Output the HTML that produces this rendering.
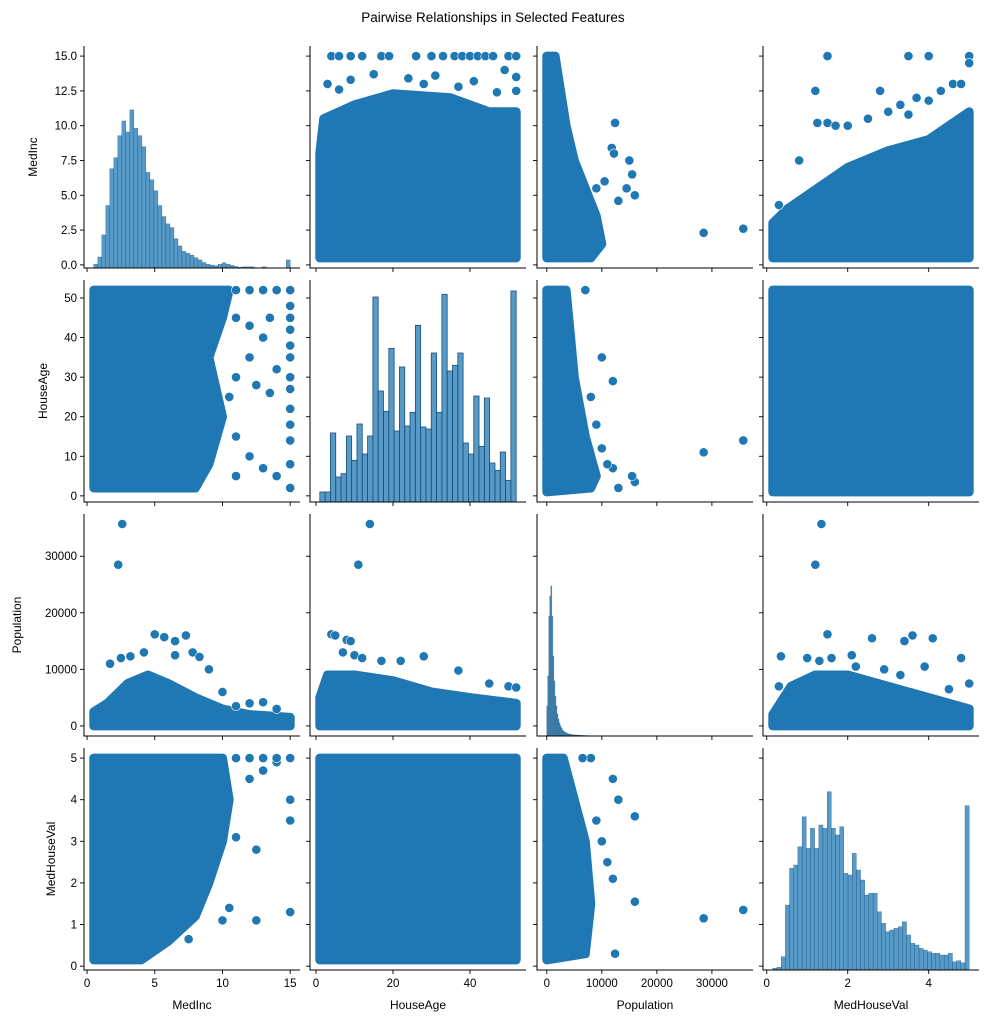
<!DOCTYPE html>
<html><head><meta charset="utf-8">
<style>
html,body{margin:0;padding:0;background:#fff;}
svg{display:block;font-family:"Liberation Sans","DejaVu Sans",sans-serif;}
</style></head>
<body>
<svg id="chart" width="986" height="1023" viewBox="0 0 986 1023" xmlns="http://www.w3.org/2000/svg">
<text x="493" y="22" text-anchor="middle" font-size="13.5" fill="#000">Pairwise Relationships in Selected Features</text>
<g id="cells"></g>
</svg>
<script>
// ---- data ----
const variables = ["MedInc","HouseAge","Population","MedHouseVal"];
const domMedInc = [-0.225, 15.725];
const domHouseAge = [-1.55, 54.55];
const domPopulation = [-1781, 37466];
const domMedHouseVal = [-0.0925, 5.2425];
const ticksMedInc = [0, 2.5, 5, 7.5, 10, 12.5, 15];
const tickLabelsMedInc = ["0.0","2.5","5.0","7.5","10.0","12.5","15.0"];
const xTicksMedInc = [0, 5, 10, 15];
const ticksHouseAge = [0, 10, 20, 30, 40, 50];
const xTicksHouseAge = [0, 20, 40];
const ticksPopulation = [0, 10000, 20000, 30000];
const ticksMedHouseVal = [0, 1, 2, 3, 4, 5];
const xTicksMedHouseVal = [0, 2, 4];

// histograms (bin counts, relative)
const histMedIncRange = [0.5, 15.0];
const histMedInc = [10,30,90,170,270,300,360,400,370,430,380,360,330,260,240,210,170,140,120,110,80,60,45,40,35,28,22,15,10,8,6,10,14,10,7,4,2,3,3,3,1,1,3,1,0,0,0,0,22];
const histMedIncMax = 604;
const histHouseAgeRange = [1, 52];
const histHouseAge = [30,30,207,75,85,198,125,234,144,198,615,333,272,461,213,405,228,269,530,225,219,447,269,623,393,410,447,177,144,318,167,312,117,95,150,65,633];
const histHouseAgeMax = 666;
const histPopulationRange = [0, 11100];
const histPopulation = [30,60,120,140,150,120,80,55,40,30,22,17,13,10,8,6,5,4,3.5,3,2.5,2,2,1.5,1.5,1.2,1.2,1,1,1,0.8,0.8,0.8,0.6,0.6,0.6,0.5,0.5,0.5,0.4,0.4,0.4,0.3,0.3,0.3,0.3,0.2,0.2,0.2,0.2,0.2,0.2,0.2,0.2,0.2,0.2,0.2,0.2,0.2,0.2];
const histPopulationMax = 222;
const histMedHouseValRange = [0.15, 5.0];
const histMedHouseVal = [5,8,40,195,305,315,370,460,365,425,365,435,425,535,425,405,430,290,285,350,300,270,225,230,230,175,140,115,120,125,130,145,105,80,75,65,60,55,50,50,45,45,50,25,28,22,493];
const histMedHouseValMax = 666;

// scatter panels: dense region outlines [x,y] and sparse points [x,y]; key = row_col
const denseR0C1 = [[1,0.5],[52,0.5],[52,11],[45,11],[35,12],[20,12.3],[10,11.5],[2,10.5],[1,8]];
const ptsR0C1 = [[4,15],[6,15],[9,15],[12,15],[17,15],[19,15],[26,15],[30,15],[33,15],[36,15],[38,15],[40,15],[42,15],[44,15],[46,15],[50,15],[52,15],[3,13],[6,12.6],[9,13.3],[15,13.7],[24,13.4],[31,13.6],[41,13.2],[49,14],[52,13.5],[52,12.5],[28,13],[37,12.8],[47,12.4]];
const denseR0C2 = [[0,0.5],[8000,0.5],[10000,1.5],[9000,3.5],[7000,5.5],[5000,7.5],[3500,10],[2500,12.5],[1500,15],[0,15]];
const ptsR0C2 = [[12400,10.2],[11800,8.4],[12200,8],[15000,7.5],[15500,6.5],[14500,5.5],[16000,5],[10500,6],[28500,2.3],[35700,2.6],[13000,4.6],[9000,5.5]];
const denseR0C3 = [[0.15,0.5],[5,0.5],[5,11],[4.5,10],[4,9],[3,8.2],[2,7],[1,5],[0.5,4],[0.15,3]];
const ptsR0C3 = [[1.5,15],[3.5,15],[4,15],[5,15],[1.2,12.5],[1.5,10.2],[1.25,10.2],[0.3,4.3],[4.3,12.5],[4.6,13],[4.8,13],[5,14.5],[2,10],[2.5,10.5],[3,11],[3.3,11.5],[3.7,12],[2.8,12.5],[4,11.8],[3.5,10.8],[0.8,7.5],[1.7,10]];
const denseR1C0 = [[0.5,2],[8,2],[9,8],[10,20],[9,35],[10,45],[10.5,52],[0.5,52]];
const ptsR1C0 = [[11,52],[12,52],[13,52],[14,52],[15,52],[15,48],[15,45],[15,42],[15,38],[15,35],[15,30],[15,27],[15,22],[15,18],[15,14],[15,8],[15,2],[11,45],[12,43],[13,40],[11,30],[12.5,28],[13.5,26],[11,15],[12,10],[13,7],[14,5],[11,5],[10.5,25],[12,35],[14,32],[13.5,45]];
const denseR1C2 = [[0,1],[8000,2],[9000,5],[7000,15],[5000,30],[4000,45],[3500,52],[0,52]];
const ptsR1C2 = [[13000,2],[16000,3.5],[15500,5],[12000,7],[10000,12],[12000,29],[10000,35],[28500,11],[35700,14],[7000,52],[9000,18],[11000,8],[8000,25]];
const denseR1C3 = [[0.15,1],[5,1],[5,52],[0.15,52]];
const ptsR1C3 = [];
const denseR2C0 = [[0.5,0],[15,0],[15,1500],[12,2000],[10,3000],[8,5000],[6,7500],[4.5,9000],[3,7500],[1.5,4000],[0.5,2500]];
const ptsR2C0 = [[2.3,28500],[2.6,35700],[5,16200],[5.7,15700],[6.5,15000],[7.3,16000],[7.8,13000],[8.3,12200],[4.2,13000],[3.2,12300],[2.5,12000],[1.7,11000],[6.5,12500],[9,10000],[12,4000],[13,4200],[14,3000],[10,6000],[11,3500]];
const denseR2C1 = [[1,0],[52,0],[52,4000],[40,5000],[30,6000],[20,8000],[10,9000],[3,9000],[1,5000]];
const ptsR2C1 = [[4,16200],[5,16000],[8,15200],[9,15000],[10,12500],[11,28500],[14,35700],[12,12000],[17,11500],[22,11500],[28,12300],[37,9800],[45,7500],[50,7000],[52,6800],[7,13000]];
const denseR2C3 = [[0.15,0],[5,0],[5,3000],[4,5000],[3,7000],[2,9000],[1.2,9000],[0.6,7000],[0.15,2000]];
const ptsR2C3 = [[1.2,28500],[1.35,35700],[1.5,16200],[2.6,15500],[3.4,15000],[3.6,16000],[4.1,15500],[4.8,12000],[0.35,12300],[1,12000],[1.6,12000],[2.2,10500],[2.9,10000],[3.3,9000],[3.9,10500],[4.5,6500],[5,7500],[0.3,7000],[2.1,12500],[1.3,11500]];
const denseR3C0 = [[0.5,0.15],[4,0.15],[6,0.6],[8,1.2],[9,2],[10,3],[10.5,4],[10,5],[0.5,5]];
const ptsR3C0 = [[10.5,1.4],[10,1.1],[12.5,1.1],[12.5,2.8],[15,1.3],[15,3.5],[15,4],[11,3.1],[7.5,0.65],[12,4.5],[13,4.7],[14,4.9],[15,5],[12,5],[13,5],[14,5],[11,5]];
const denseR3C1 = [[1,0.15],[52,0.15],[52,5],[1,5]];
const ptsR3C1 = [];
const denseR3C2 = [[0,0.15],[7000,0.3],[8000,1.5],[7000,3],[5000,4],[3000,5],[0,5]];
const ptsR3C2 = [[12000,4.5],[13000,4],[16000,3.6],[16000,1.55],[12400,0.3],[28500,1.15],[35700,1.35],[10000,3],[11000,2.5],[9000,3.5],[12000,2.1],[8000,5],[6500,5]];

// ---- layout ----
const colLeft = [84, 310, 537, 763], cellW = 216;
const rowTop = [46, 280, 514, 748], cellH = 222;
const NS = "http://www.w3.org/2000/svg";
const domains = [domMedInc, domHouseAge, domPopulation, domMedHouseVal];
const yTicks = [ticksMedInc, ticksHouseAge, ticksPopulation, ticksMedHouseVal];
const yTickLabels = [tickLabelsMedInc, ticksHouseAge.map(String), ticksPopulation.map(String), ticksMedHouseVal.map(String)];
const xTicks = [xTicksMedInc, xTicksHouseAge, ticksPopulation, xTicksMedHouseVal];
const hists = [[histMedInc, histMedIncRange, histMedIncMax],[histHouseAge, histHouseAgeRange, histHouseAgeMax],[histPopulation, histPopulationRange, histPopulationMax],[histMedHouseVal, histMedHouseValRange, histMedHouseValMax]];
const dense = {"0_1":denseR0C1,"0_2":denseR0C2,"0_3":denseR0C3,"1_0":denseR1C0,"1_2":denseR1C2,"1_3":denseR1C3,"2_0":denseR2C0,"2_1":denseR2C1,"2_3":denseR2C3,"3_0":denseR3C0,"3_1":denseR3C1,"3_2":denseR3C2};
const pts = {"0_1":ptsR0C1,"0_2":ptsR0C2,"0_3":ptsR0C3,"1_0":ptsR1C0,"1_2":ptsR1C2,"1_3":ptsR1C3,"2_0":ptsR2C0,"2_1":ptsR2C1,"2_3":ptsR2C3,"3_0":ptsR3C0,"3_1":ptsR3C1,"3_2":ptsR3C2};

function xScale(c, v){ const d = domains[c]; return colLeft[c] + (v - d[0]) / (d[1] - d[0]) * cellW; }
function yScale(r, v){ const d = domains[r]; return rowTop[r] + cellH - (v - d[0]) / (d[1] - d[0]) * cellH; }
function mk(tag, attrs, parent){ const e = document.createElementNS(NS, tag); for (const k in attrs) e.setAttribute(k, attrs[k]); parent.appendChild(e); return e; }
function slug(s){ return s.toLowerCase(); }

const root = document.getElementById('cells');
for (let r = 0; r < 4; r++) {
  for (let c = 0; c < 4; c++) {
    const g = mk('g', {}, root);
    
    
    const x0 = colLeft[c], y0 = rowTop[r], y1 = y0 + cellH;
    if (r === c) {
      const [counts, range, ymax] = hists[c];
      const n = counts.length, bw = (range[1] - range[0]) / n;
      counts.forEach((v, i) => {
        const xa = xScale(c, range[0] + i * bw), xb = xScale(c, range[0] + (i + 1) * bw);
        const h = v / ymax * cellH;
        const b = mk('rect', {x: xa, y: y1 - h, width: Math.max(xb - xa, 0.5), height: h, fill: '#1f77b4', 'fill-opacity': 0.75, stroke: '#1a4f78', 'stroke-width': n > 45 ? 0.3 : 0.8}, g);
        
        
      });
    } else {
      const key = r + '_' + c;
      const poly = dense[key].map(p => xScale(c, p[0]).toFixed(1) + ',' + yScale(r, p[1]).toFixed(1)).join(' ');
      const pg = mk('polygon', {points: poly, fill: '#1f77b4', stroke: '#1f77b4', 'stroke-width': 9, 'stroke-linejoin': 'round'}, g);
      
      
      pts[key].forEach(p => {
        const ci = mk('circle', {cx: xScale(c, p[0]), cy: yScale(r, p[1]), r: 4.6, fill: '#1f77b4', stroke: '#fff', 'stroke-width': 0.6}, g);
        
        
      });
    }
    // spines
    const ls = mk('line', {x1: x0, y1: y0, x2: x0, y2: y1 + 0.5, stroke: '#000', 'stroke-width': 1}, g);
    
    
    const bs = mk('line', {x1: x0 - 0.5, y1: y1, x2: x0 + cellW, y2: y1, stroke: '#000', 'stroke-width': 1}, g);
    
    
    // y ticks
    yTicks[r].forEach((t, i) => {
      const y = yScale(r, t);
      const tk = mk('line', {x1: x0 - 4, y1: y, x2: x0, y2: y, stroke: '#000', 'stroke-width': 0.9}, g);
      
      
      if (c === 0) {
        const tl = mk('text', {x: x0 - 7, y: y + 4, 'text-anchor': 'end', 'font-size': 11.5, fill: '#000'}, g);
        tl.textContent = yTickLabels[r][i];
        
        
      }
    });
    // x ticks
    xTicks[c].forEach(t => {
      const x = xScale(c, t);
      const tk = mk('line', {x1: x, y1: y1, x2: x, y2: y1 + 4, stroke: '#000', 'stroke-width': 0.9}, g);
      
      
      if (r === 3) {
        const tl = mk('text', {x: x, y: y1 + 17, 'text-anchor': 'middle', 'font-size': 11.5, fill: '#000'}, g);
        tl.textContent = String(t);
        
        
      }
    });
  }
}
// axis titles
const yLabelX = [37, 47, 21, 55];
variables.forEach((v, i) => {
  const cy = rowTop[i] + cellH / 2;
  const yl = mk('text', {x: yLabelX[i], y: cy, transform: 'rotate(-90 ' + yLabelX[i] + ' ' + cy + ')', 'text-anchor': 'middle', 'font-size': 12, fill: '#000'}, root);
  yl.textContent = v;
  
  
  const xl = mk('text', {x: colLeft[i] + cellW / 2, y: 1009, 'text-anchor': 'middle', 'font-size': 12, fill: '#000'}, root);
  xl.textContent = v;
  
  
});
</script>
</body></html>
